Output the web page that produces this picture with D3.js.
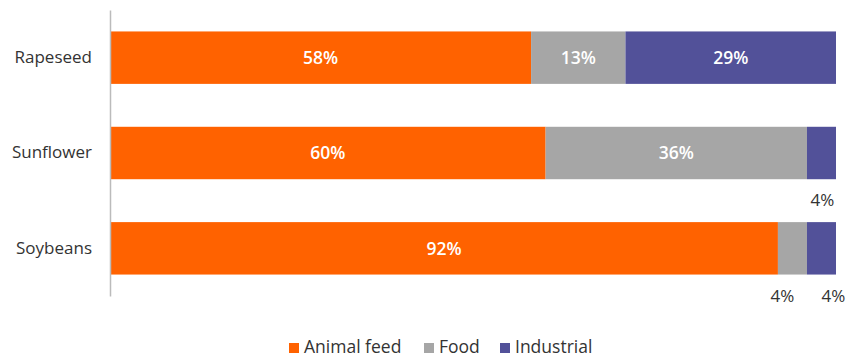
<!DOCTYPE html>
<html><head><meta charset="utf-8">
<script src="https://cdn.jsdelivr.net/npm/d3@7"></script>
<style>body{margin:0;background:#fff}text{font-family:"Open Sans",Lato,sans-serif}</style>
</head><body><svg id="c" width="847" height="358"></svg>
<script>
const categories = ["Rapeseed","Sunflower","Soybeans"];
const seriesNames = ["Animal feed","Food","Industrial"];
const animalFeed = [58,60,92];
const food = [13,36,4];
const industrial = [29,4,4];
const colors = ["#FF6200","#A6A6A6","#525199"];
// labels placed outside (below bar) for small segments: [category index, series index, dx]
const outsideLabels = [[1,2,1],[2,1,-10],[2,2,12]];

const svg = d3.select("#c");
const x = d3.scaleLinear().domain([0,100]).range([110,836]);
const y = d3.scaleBand().domain(categories).range([10,296]).paddingInner(0.45).paddingOuter(0.225);

const data = categories.map((c,i)=>({cat:c, vals:[animalFeed[i],food[i],industrial[i]]}));
const stack = d3.stack().keys([0,1,2]).value((d,k)=>d.vals[k]);
const series = stack(data);

series.forEach((s,k)=>{
  svg.append("g").selectAll("rect").data(s).join("rect")
    .attr("x",d=>x(d[0])).attr("width",d=>x(d[1])-x(d[0]))
    .attr("y",d=>y(d.data.cat)).attr("height",y.bandwidth())
    .attr("fill",colors[k]);
  svg.append("g").selectAll("text").data(s.filter(d=>d[1]-d[0]>=10)).join("text")
    .attr("x",d=>x((d[0]+d[1])/2)).attr("y",d=>y(d.data.cat)+y.bandwidth()/2)
    .attr("dy","0.36em").attr("text-anchor","middle").attr("fill","#fff")
    .attr("font-size",17.5).attr("font-weight",600)
    .text(d=>(d[1]-d[0])+"%");
});
outsideLabels.forEach(([ci,k,dx])=>{
  const d = series[k][ci];
  svg.append("text").attr("x",x((d[0]+d[1])/2)+dx)
    .attr("y",y(categories[ci])+y.bandwidth()+27)
    .attr("text-anchor","middle").attr("fill","#333").attr("font-size",17)
    .text((d[1]-d[0])+"%");
});

// axis
const ax = svg.append("g").attr("transform","translate(110,0)").call(d3.axisLeft(y).tickSize(0).tickPadding(18));
ax.select(".domain").attr("stroke","#bbb").attr("stroke-width",1.5);
ax.selectAll("text").attr("font-size",17).attr("fill","#333").attr("font-family","'Open Sans',Lato,sans-serif");

// legend
const legX = [289,424,500];
const lg = svg.append("g");
seriesNames.forEach((n,k)=>{
  lg.append("rect").attr("x",legX[k]).attr("y",343).attr("width",10).attr("height",10).attr("fill",colors[k]);
  lg.append("text").attr("x",legX[k]+15).attr("y",353).attr("font-size",17.5).attr("fill","#333").text(n);
});
</script></body></html>
